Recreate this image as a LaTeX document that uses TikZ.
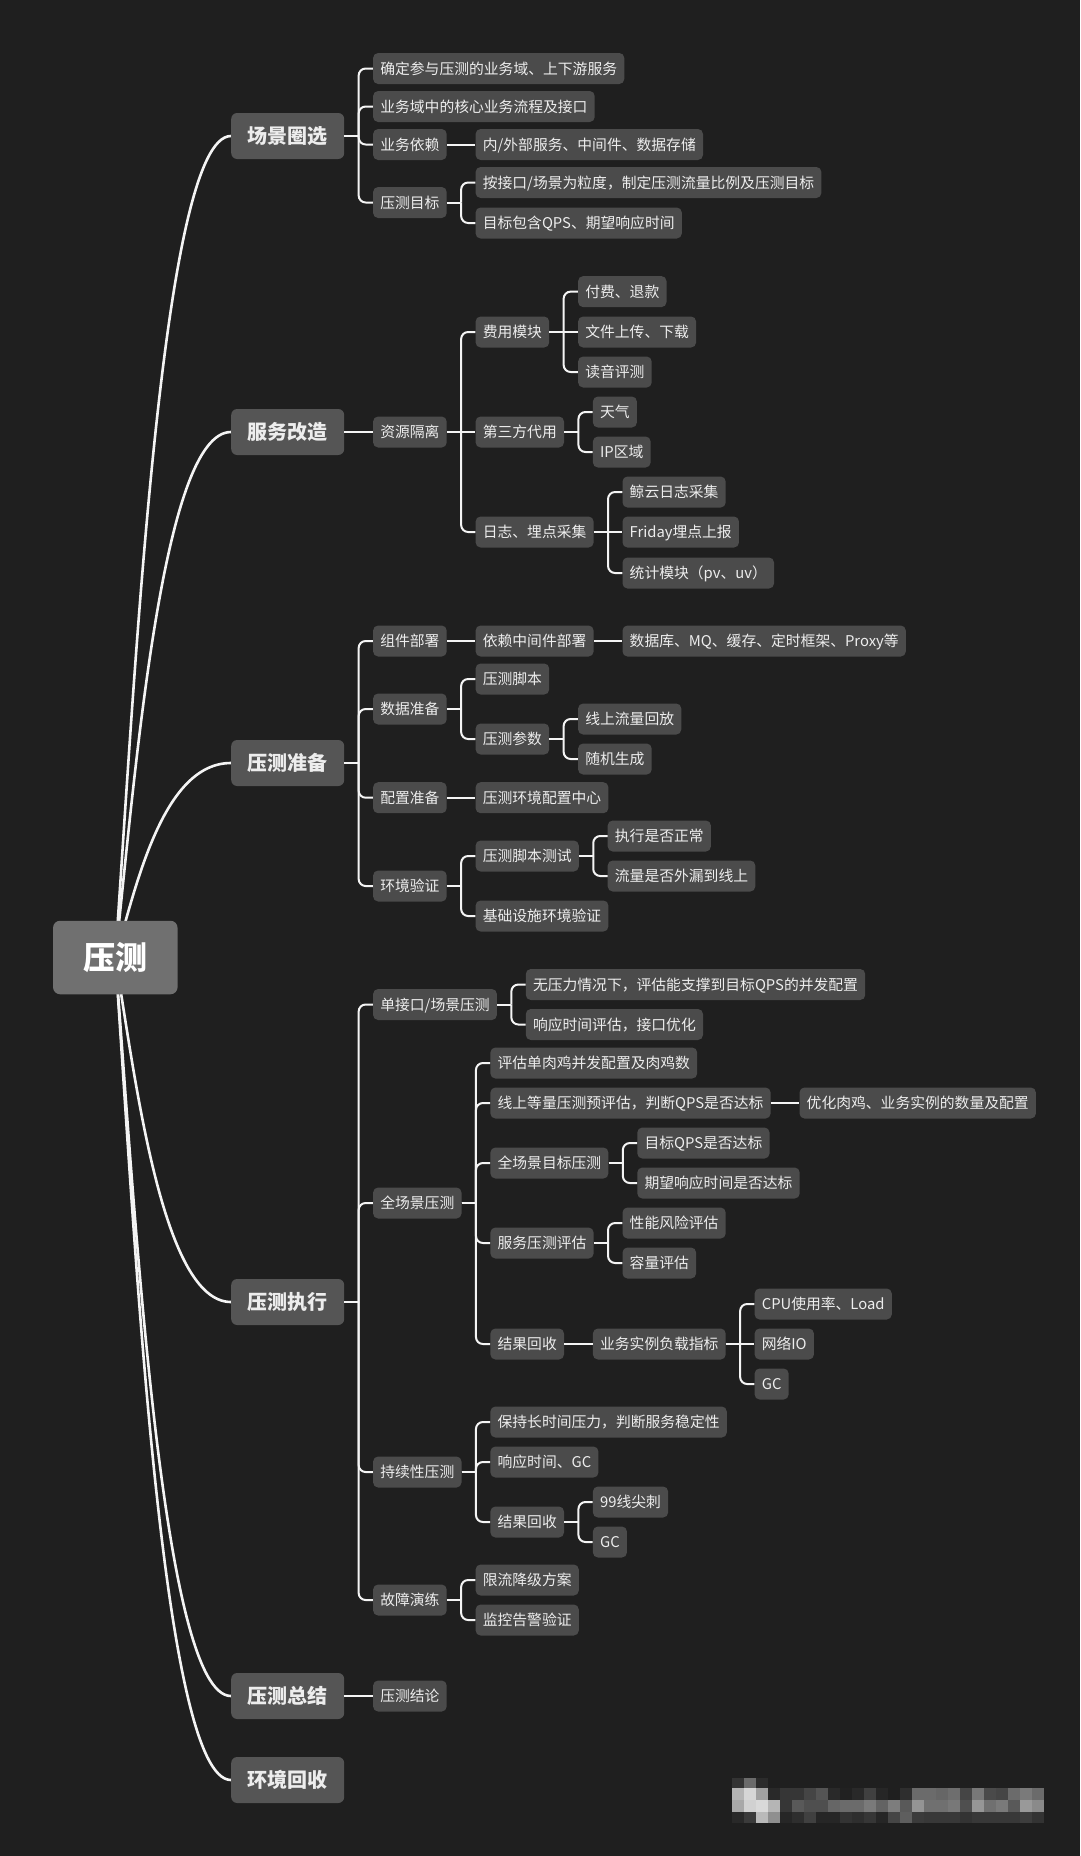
\documentclass[tikz,border=0pt]{standalone}
\usepackage{fontspec}
\setmainfont{Noto Sans CJK SC}
\usetikzlibrary{calc,backgrounds}
\definecolor{bg}{HTML}{1F1F1F}
\definecolor{rootc}{HTML}{707070}
\definecolor{lonec}{HTML}{555555}
\definecolor{nodec}{HTML}{4B4B4B}
\definecolor{txt}{HTML}{EDEDED}
\definecolor{wire}{HTML}{F4F4F4}
\tikzset{
  base/.style={rectangle, rounded corners=5pt, text=txt, inner ysep=0pt},
  rootbox/.style={base, fill=rootc, font=\fontsize{32}{36}\selectfont\bfseries, minimum width=124.5pt, minimum height=73.5pt, inner xsep=0pt, rounded corners=7pt, text height=28.2pt, text depth=3.8pt, text=white},
  lone/.style={base, fill=lonec, font=\fontsize{20}{24}\selectfont\bfseries, minimum width=113pt, minimum height=46pt, inner xsep=0pt, text height=17.6pt, text depth=2.4pt, anchor=west, rounded corners=6pt},
  leaf/.style={base, fill=nodec, font=\fontsize{14.8}{17}\selectfont, inner xsep=7.2pt, minimum height=31pt, text height=13pt, text depth=1.8pt, anchor=west},
  trunkline/.style={draw=wire, line width=2pt},
  elbowline/.style={draw=wire, line width=2pt, rounded corners=7pt},
  mainwire/.style={draw=wire, line width=2.6pt, line cap=round},
}
% child with an elbow connector
\newcommand{\kid}[4]{%
  \node[leaf] (#2) at ($(#1.east |- 0,#3)+(28.5,0)$) {#4};
  \draw[trunkline] (#1.east) -- ($(#1.east)+(14.25,0)$);
  \draw[elbowline] ($(#1.east)+(14.25,0)$) |- (#2.west);
}
% child level with its parent: straight connector
\newcommand{\kidS}[3]{%
  \node[leaf] (#2) at ($(#1.east)+(28.5,0)$) {#3};
  \draw[trunkline] (#1.east) -- (#2.west);
}
\begin{document}
\begin{tikzpicture}[x=1pt,y=-1pt]
\useasboundingbox (0,0) rectangle (1080,1856);
% root and first level
\node[rootbox] (root) at (115.3,957.5) {压测};
\node[lone] (c1) at (231,136) {场景圈选};
\node[lone] (c2) at (231,432) {服务改造};
\node[lone] (c3) at (231,763) {压测准备};
\node[lone] (c4) at (231,1302) {压测执行};
\node[lone] (c5) at (231,1696) {压测总结};
\node[lone] (c6) at (231,1780) {环境回收};
% 场景圈选
\kid{c1}{a1}{68.5}{确定参与压测的业务域、上下游服务}
\kid{c1}{a2}{106.5}{业务域中的核心业务流程及接口}
\kid{c1}{a3}{144.5}{业务依赖}
\kidS{a3}{a31}{内/外部服务、中间件、数据存储}
\kid{c1}{a4}{202.5}{压测目标}
\kid{a4}{a41}{182.5}{按接口/场景为粒度，制定压测流量比例及压测目标}
\kid{a4}{a42}{223}{目标包含QPS、期望响应时间}
% 服务改造
\kidS{c2}{b1}{资源隔离}
\kid{b1}{b11}{332}{费用模块}
\kid{b11}{b111}{291.6}{付费、退款}
\kidS{b11}{b112}{文件上传、下载}
\kid{b11}{b113}{372}{读音评测}
\kidS{b1}{b12}{第三方代用}
\kid{b12}{b121}{412}{天气}
\kid{b12}{b122}{452}{IP区域}
\kid{b1}{b13}{532}{日志、埋点采集}
\kid{b13}{b131}{492}{鲸云日志采集}
\kidS{b13}{b132}{Friday埋点上报}
\kid{b13}{b133}{573}{统计模块（pv、uv）}
% 压测准备
\kid{c3}{d1}{641}{组件部署}
\kidS{d1}{d11}{依赖中间件部署}
\kidS{d11}{d111}{数据库、MQ、缓存、定时框架、Proxy等}
\kid{c3}{d2}{709}{数据准备}
\kid{d2}{d21}{679}{压测脚本}
\kid{d2}{d22}{739}{压测参数}
\kid{d22}{d221}{719}{线上流量回放}
\kid{d22}{d222}{759}{随机生成}
\kid{c3}{d3}{797.7}{配置准备}
\kidS{d3}{d31}{压测环境配置中心}
\kid{c3}{d4}{886}{环境验证}
\kid{d4}{d41}{856}{压测脚本测试}
\kid{d41}{d411}{836}{执行是否正常}
\kid{d41}{d412}{876}{流量是否外漏到线上}
\kid{d4}{d42}{916}{基础设施环境验证}
% 压测执行
\kid{c4}{e1}{1004.5}{单接口/场景压测}
\kid{e1}{e11}{984.5}{无压力情况下，评估能支撑到目标QPS的并发配置\hspace{22pt}}
\kid{e1}{e12}{1024.5}{响应时间评估，接口优化}
\kid{c4}{e2}{1203}{全场景压测}
\kid{e2}{e21}{1063}{评估单肉鸡并发配置及肉鸡数}
\kid{e2}{e22}{1103}{线上等量压测预评估，判断QPS是否达标}
\kidS{e22}{e221}{优化肉鸡、业务实例的数量及配置}
\kid{e2}{e23}{1163}{全场景目标压测}
\kid{e23}{e231}{1143}{目标QPS是否达标}
\kid{e23}{e232}{1183}{期望响应时间是否达标}
\kid{e2}{e24}{1243}{服务压测评估}
\kid{e24}{e241}{1223}{性能风险评估}
\kid{e24}{e242}{1263}{容量评估}
\kid{e2}{e25}{1344}{结果回收}
\kidS{e25}{e251}{业务实例负载指标}
\kid{e251}{e2511}{1304}{CPU使用率、Load}
\kidS{e251}{e2512}{网络IO}
\kid{e251}{e2513}{1384}{GC}
\kid{c4}{e3}{1472}{持续性压测}
\kid{e3}{e31}{1422}{保持长时间压力，判断服务稳定性}
\kid{e3}{e32}{1462}{响应时间、GC}
\kid{e3}{e33}{1522}{结果回收}
\kid{e33}{e331}{1502}{99线尖刺}
\kid{e33}{e332}{1542}{GC}
\kid{c4}{e4}{1600}{故障演练}
\kid{e4}{e41}{1580}{限流降级方案}
\kid{e4}{e42}{1620}{监控告警验证}
% 压测总结
\kidS{c5}{f1}{压测结论}
% background, main curves
\begin{scope}[on background layer]
  \fill[bg] (0,0) rectangle (1080,1856);
  \foreach \n/\dy in {c1/-287.5, c2/-184, c3/-68, c4/120.6, c5/258.5, c6/288}
    \draw[mainwire] (root.center) .. controls +(20,\dy) and +(-69,0) .. (\n.west);
  % pixelated watermark
  \foreach \v [count=\i from 0] in {20,42,17}
    \fill[white!\v!black] (732+12*\i,1778) rectangle +(12,10);
  \foreach \v [count=\i from 0] in {71,84,63,16,21,21,27,33,16,13,16,25,15,12,18,42,42,40,43,27,47,29,27,42,48,42}
    \fill[white!\v!black] (732+12*\i,1788) rectangle +(12,12);
  \foreach \v [count=\i from 0] in {66,82,85,71,21,35,31,31,40,42,42,48,39,49,35,58,44,44,47,31,59,44,48,35,60,54}
    \fill[white!\v!black] (732+12*\i,1800) rectangle +(12,12);
  \foreach \v [count=\i from 0] in {16,23,73,56,15,18,25,15,15,20,18,21,15,27,37,23,22,22,22,20,22,22,22,22,24,20}
    \fill[white!\v!black] (732+12*\i,1812) rectangle +(12,11);
\end{scope}
\end{tikzpicture}
\end{document}
